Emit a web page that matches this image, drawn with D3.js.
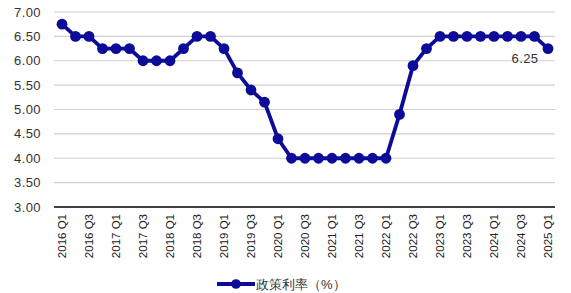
<!DOCTYPE html>
<html>
<head>
<meta charset="utf-8">
<script src="https://cdn.jsdelivr.net/npm/d3@7"></script>
<style>
  body { margin:0; background:#fff; }
  text { font-family: "Liberation Sans", Arial, sans-serif; }
</style>
</head>
<body>
<svg id="chart" width="571" height="293"></svg>
<script>
var years = ["2016","2017","2018","2019","2020","2021","2022","2023","2024","2025"];
var quarters = [];
years.forEach(function(y){
  ["Q1","Q2","Q3","Q4"].forEach(function(q){ quarters.push(y+" "+q); });
});
quarters = quarters.slice(0, 37); // up to 2025 Q1

var policyRate = [
  6.75, 6.50, 6.50, 6.25,
  6.25, 6.25, 6.00, 6.00,
  6.00, 6.25, 6.50, 6.50,
  6.25, 5.75, 5.40, 5.15,
  4.40, 4.00, 4.00, 4.00,
  4.00, 4.00, 4.00, 4.00,
  4.00, 4.90, 5.90, 6.25,
  6.50, 6.50, 6.50, 6.50,
  6.50, 6.50, 6.50, 6.50,
  6.25
];
var yTicks = [3.00, 3.50, 4.00, 4.50, 5.00, 5.50, 6.00, 6.50, 7.00];
var seriesName = "政策利率（%）";
var lastLabel = "6.25";

var svg = d3.select("#chart");
var color = "#0c0c98";

var plotLeft = 54, plotRight = 555, plotTop = 12, plotBottom = 207;

var x = d3.scalePoint().domain(quarters).range([62, 548]);
var y = d3.scaleLinear().domain([3, 7]).range([plotBottom, plotTop]);

// gridlines
svg.append("g").selectAll("line")
  .data(yTicks.filter(function(d){ return d > 3; }))
 .enter().append("line")
  .attr("x1", plotLeft).attr("x2", plotRight)
  .attr("y1", function(d){ return y(d); })
  .attr("y2", function(d){ return y(d); })
  .attr("stroke", "#d0d0d0")
  .attr("stroke-width", 1.2);

// y labels
svg.append("g").selectAll("text")
  .data(yTicks)
 .enter().append("text")
  .attr("x", 41)
  .attr("y", function(d){ return y(d) + 4.5; })
  .attr("text-anchor", "end")
  .attr("font-size", 13)
  .attr("letter-spacing", 0.4)
  .attr("fill", "#333")
  .text(function(d){ return d.toFixed(2); });

// x axis line
svg.append("line")
  .attr("x1", plotLeft).attr("x2", plotRight)
  .attr("y1", plotBottom).attr("y2", plotBottom)
  .attr("stroke", "#000").attr("stroke-width", 1.5);

// x labels, every other quarter
svg.append("g").selectAll("text")
  .data(quarters.filter(function(d,i){ return i % 2 == 0; }))
 .enter().append("text")
  .attr("transform", function(d){ return "translate(" + (x(d) + 4) + "," + 214 + ") rotate(-90)"; })
  .attr("text-anchor", "end")
  .attr("font-size", 11.5)
  .attr("fill", "#222")
  .text(function(d){ return d; });

// line
var line = d3.line()
  .x(function(d,i){ return x(quarters[i]); })
  .y(function(d){ return y(d); });

svg.append("path")
  .datum(policyRate)
  .attr("d", line)
  .attr("fill", "none")
  .attr("stroke", color)
  .attr("stroke-width", 3.8)
  .attr("stroke-linejoin", "round");

svg.append("g").selectAll("circle")
  .data(policyRate)
 .enter().append("circle")
  .attr("cx", function(d,i){ return x(quarters[i]); })
  .attr("cy", function(d){ return y(d); })
  .attr("r", 5.4)
  .attr("fill", color);

// last value label
svg.append("text")
  .attr("x", x(quarters[quarters.length-1]) - 23)
  .attr("y", y(policyRate[policyRate.length-1]) + 14)
  .attr("text-anchor", "middle")
  .attr("font-size", 13)
  .attr("letter-spacing", 0.4)
  .attr("fill", "#333")
  .text(lastLabel);

// legend
var lg = svg.append("g").attr("transform", "translate(217,284)");
lg.append("line")
  .attr("x1", 0).attr("x2", 38).attr("y1", 0).attr("y2", 0)
  .attr("stroke", color).attr("stroke-width", 3.8);
lg.append("circle").attr("cx", 19).attr("cy", 0).attr("r", 4.8).attr("fill", color);
lg.append("text")
  .attr("x", 39).attr("y", 4.5)
  .attr("font-size", 13)
  .attr("font-family", "'Noto Sans CJK SC', sans-serif")
  .attr("fill", "#333")
  .text(seriesName);
</script>
</body>
</html>
